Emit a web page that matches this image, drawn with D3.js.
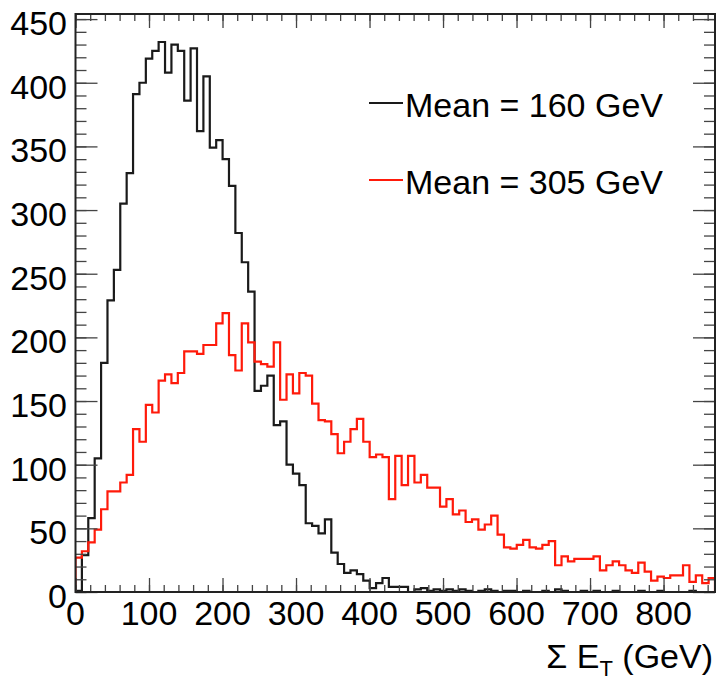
<!DOCTYPE html>
<html>
<head>
<meta charset="utf-8">
<script src="https://cdn.jsdelivr.net/npm/d3@7"></script>
<style>
  html, body { margin: 0; padding: 0; background: #fff; }
  svg { display: block; }
  text { font-family: "Liberation Sans", Arial, Helvetica, sans-serif; }
</style>
</head>
<body>
<svg id="chart" width="717" height="686"></svg>
<script>
// ---------------- data ----------------
const xMin = 0, xMax = 870, nBins = 100;
const yMax = 454;
const xTickValues = [0, 100, 200, 300, 400, 500, 600, 700, 800];
const yTickValues = [0, 50, 100, 150, 200, 250, 300, 350, 400, 450];

const meanLowLabel = "Mean = 160 GeV";
const meanHighLabel = "Mean = 305 GeV";

const blackCounts = [
  1, 29, 58, 105, 180, 229, 253, 305, 329, 391,
  400, 419, 425, 432, 408, 430, 425, 386, 427, 362,
  405, 349, 355, 340, 319, 282, 259, 236, 158, 162,
  170, 131, 134, 100, 93, 84, 54, 52, 46, 57,
  31, 22, 15, 17, 14, 9, 3, 7, 11, 4,
  4, 4, 0, 2, 3, 1, 2, 1, 2, 1,
  2, 1, 0, 1, 2, 1, 0, 1, 1, 0,
  1, 0, 0, 1, 0, 2, 1, 0, 0, 1,
  0, 1, 0, 0, 1, 0, 0, 0, 1, 0,
  0, 1, 0, 0, 0, 0, 1, 0, 0, 0
];
const redCounts = [
  27, 32, 39, 49, 65, 79, 79, 86, 92, 128,
  118, 147, 141, 166, 171, 164, 172, 189, 189, 187,
  194, 194, 211, 219, 186, 174, 211, 196, 181, 179,
  177, 196, 151, 171, 156, 172, 170, 148, 135, 134,
  124, 109, 118, 128, 136, 118, 106, 108, 106, 73,
  107, 84, 107, 86, 92, 82, 82, 67, 73, 61,
  64, 55, 57, 49, 53, 60, 45, 35, 34, 37,
  41, 35, 34, 37, 40, 21, 28, 24, 26, 26,
  26, 28, 17, 21, 24, 21, 17, 15, 23, 16,
  9, 12, 11, 13, 13, 21, 8, 13, 7, 11
];

// ---------------- layout ----------------
const svg = d3.select("#chart");
const L = 75.5, R = 715, T = 14, B = 592;

const x = d3.scaleLinear().domain([xMin, xMax]).range([L, R]);
const y = d3.scaleLinear().domain([0, yMax]).range([B, T]);
const binW = (xMax - xMin) / nBins;

// clip to frame
svg.append("defs").append("clipPath").attr("id", "frameClip")
  .append("rect").attr("x", L).attr("y", T).attr("width", R - L).attr("height", B - T);

function stepPath(counts) {
  const p = d3.path();
  counts.forEach((c, i) => {
    const x0 = x(xMin + i * binW), x1 = x(xMin + (i + 1) * binW);
    if (i === 0) { p.moveTo(x0, y(0)); }
    p.lineTo(x0, y(c));
    p.lineTo(x1, y(c));
  });
  p.lineTo(x(xMax), y(0));
  return p.toString();
}

const plot = svg.append("g").attr("clip-path", "url(#frameClip)");
plot.append("path").attr("d", stepPath(blackCounts))
  .attr("fill", "none").attr("stroke", "#1a1a1a").attr("stroke-width", 2.2)
  .attr("stroke-linejoin", "miter");
plot.append("path").attr("d", stepPath(redCounts))
  .attr("fill", "none").attr("stroke", "#ff1a0a").attr("stroke-width", 2.2)
  .attr("stroke-linejoin", "miter");

// ---------------- axes (ticks inward, ROOT style) ----------------
const tickColor = "#444";
function styleAxis(g) {
  g.select(".domain").remove();
  g.selectAll("line").attr("stroke", tickColor).attr("stroke-width", 1.3);
  g.selectAll("text").remove();
}
const xMinor = d3.range(0, xMax + 1, 20);
const yMinor = d3.range(0, yMax + 1, 10);

// bottom
svg.append("g").attr("transform", `translate(0,${B})`)
  .call(d3.axisBottom(x).tickValues(xMinor).tickSize(-7)).call(styleAxis);
svg.append("g").attr("transform", `translate(0,${B})`)
  .call(d3.axisBottom(x).tickValues(xTickValues).tickSize(-14)).call(styleAxis);
// top
svg.append("g").attr("transform", `translate(0,${T})`)
  .call(d3.axisTop(x).tickValues(xMinor).tickSize(-7)).call(styleAxis);
svg.append("g").attr("transform", `translate(0,${T})`)
  .call(d3.axisTop(x).tickValues(xTickValues).tickSize(-14)).call(styleAxis);
// left
svg.append("g").attr("transform", `translate(${L},0)`)
  .call(d3.axisLeft(y).tickValues(yMinor).tickSize(-11)).call(styleAxis);
svg.append("g").attr("transform", `translate(${L},0)`)
  .call(d3.axisLeft(y).tickValues(yTickValues).tickSize(-22)).call(styleAxis);
// right
svg.append("g").attr("transform", `translate(${R},0)`)
  .call(d3.axisRight(y).tickValues(yMinor).tickSize(-11)).call(styleAxis);
svg.append("g").attr("transform", `translate(${R},0)`)
  .call(d3.axisRight(y).tickValues(yTickValues).tickSize(-22)).call(styleAxis);

// frame
svg.append("rect").attr("x", L).attr("y", T).attr("width", R - L).attr("height", B - T)
  .attr("fill", "none").attr("stroke", "#222").attr("stroke-width", 2);

// tick labels
const labelSize = 34;
svg.append("g").selectAll("text").data(yTickValues).join("text")
  .attr("x", 67).attr("y", d => y(d) + 4)
  .attr("text-anchor", "end").attr("dominant-baseline", "central")
  .attr("font-size", labelSize).attr("fill", "#000")
  .text(d => d);
svg.append("g").selectAll("text").data(xTickValues).join("text")
  .attr("x", d => x(d)).attr("y", 613)
  .attr("text-anchor", "middle").attr("dominant-baseline", "central")
  .attr("font-size", labelSize).attr("fill", "#000")
  .text(d => d);

// axis title
const title = svg.append("text").attr("x", 713).attr("y", 668)
  .attr("text-anchor", "end").attr("font-size", labelSize).attr("fill", "#000");
title.append("tspan").text("\u03A3 E");
title.append("tspan").attr("font-size", 22).attr("dy", 8).text("T");
title.append("tspan").attr("dy", -8).text(" (GeV)");

// legend
const legend = [
  { label: meanLowLabel, color: "#1a1a1a", yv: 103 },
  { label: meanHighLabel, color: "#ff1a0a", yv: 180 }
];
const lg = svg.append("g");
legend.forEach(d => {
  lg.append("line").attr("x1", 369).attr("x2", 403).attr("y1", d.yv).attr("y2", d.yv)
    .attr("stroke", d.color).attr("stroke-width", 2.2);
  lg.append("text").attr("x", 405).attr("y", d.yv + 2)
    .attr("dominant-baseline", "central")
    .attr("font-size", labelSize).attr("fill", "#000").text(d.label);
});
</script>
</body>
</html>
